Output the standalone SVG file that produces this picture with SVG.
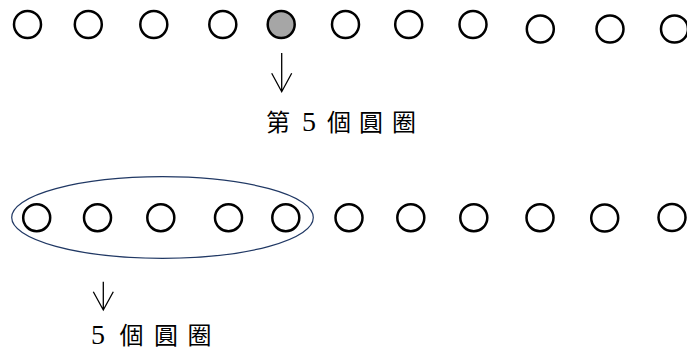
<svg xmlns="http://www.w3.org/2000/svg" width="687" height="351" viewBox="0 0 687 351">
<defs>
<style>
.c{fill:#fff;stroke:#000;stroke-width:2.5}
.g{fill:#a6a6a6;stroke:#000;stroke-width:2.5}
.a{fill:none;stroke:#000;stroke-width:1.3}
.e{fill:none;stroke:#203864;stroke-width:1.2}
.t{font-family:"Liberation Serif","Noto Sans CJK TC",serif;font-size:24px;fill:#000}
.d{font-size:28px}
</style>
</defs>
<rect width="687" height="351" fill="#fff"/>
<g id="top-row">
<circle id="t1" class="c" cx="27.5" cy="24.5" r="13.5"/>
<circle id="t2" class="c" cx="88.3" cy="24.5" r="13.5"/>
<circle id="t3" class="c" cx="153.8" cy="24.5" r="13.5"/>
<circle id="t4" class="c" cx="222.8" cy="24.5" r="13.5"/>
<circle id="t5" class="g" cx="281.2" cy="24.5" r="13.5"/>
<circle id="t6" class="c" cx="345.5" cy="24.5" r="13.5"/>
<circle id="t7" class="c" cx="408.7" cy="24.5" r="13.5"/>
<circle id="t8" class="c" cx="473" cy="24.5" r="13.5"/>
<circle id="t9" class="c" cx="540.3" cy="29" r="13.5"/>
<circle id="t10" class="c" cx="610" cy="29" r="13.5"/>
<circle id="t11" class="c" cx="674.5" cy="29" r="13.5"/>
</g>
<g id="bottom-row">
<ellipse id="group-ellipse" class="e" cx="162.5" cy="217.5" rx="150.8" ry="40.8"/>
<circle id="b1" class="c" cx="36.7" cy="217.7" r="13.5"/>
<circle id="b2" class="c" cx="97.5" cy="217.7" r="13.5"/>
<circle id="b3" class="c" cx="160.8" cy="217.7" r="13.5"/>
<circle id="b4" class="c" cx="228.5" cy="217.7" r="13.5"/>
<circle id="b5" class="c" cx="285.8" cy="217.7" r="13.5"/>
<circle id="b6" class="c" cx="349" cy="217.7" r="13.5"/>
<circle id="b7" class="c" cx="410.8" cy="217.7" r="13.5"/>
<circle id="b8" class="c" cx="473.8" cy="217.7" r="13.5"/>
<circle id="b9" class="c" cx="540" cy="217.7" r="13.5"/>
<circle id="b10" class="c" cx="604.7" cy="218" r="13.5"/>
<circle id="b11" class="c" cx="672" cy="217.5" r="13.5"/>
</g>
<g id="connectors">
<path class="a" d="M281.7 53 V91.7 M271.7 73.3 L281.7 91.7 L291.7 73.3"/>
<path class="a" d="M103.3 281.7 V310 M93.3 291.7 L103.3 310 L113.3 291.7"/>
</g>
<g id="label-top">
<text class="t" x="266" y="130.5">第</text>
<text class="t d" x="302" y="130.5">5</text>
<text class="t" x="327" y="130.5">個</text>
<text class="t" x="359" y="130.5">圓</text>
<text class="t" x="392" y="130.5">圈</text>
</g>
<g id="label-bottom">
<text class="t d" x="91" y="344.3">5</text>
<text class="t" x="119.5" y="344.3">個</text>
<text class="t" x="154" y="344.3">圓</text>
<text class="t" x="187.5" y="344.3">圈</text>
</g>
</svg>
